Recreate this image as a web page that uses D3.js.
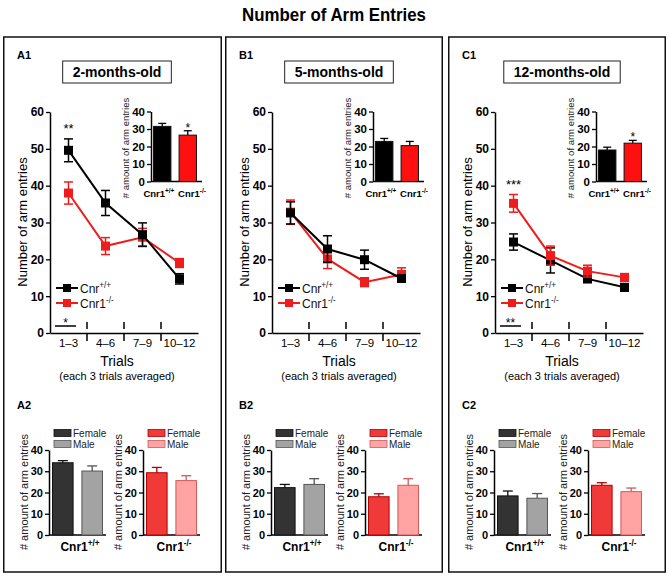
<!DOCTYPE html>
<html><head><meta charset="utf-8">
<script src="https://cdn.jsdelivr.net/npm/d3@7"></script>
<style>body{margin:0;background:#fff} svg{display:block;font-family:Arial,"Liberation Sans",sans-serif}</style>
</head><body><svg id="c" width="669" height="576"></svg>
<script>
// ---------------- DATA ----------------
const chartTitle = "Number of Arm Entries";
const panelLetters = ["A", "B", "C"];
const ageLabels = ["2-months-old", "5-months-old", "12-months-old"];
const trials = ["1–3", "4–6", "7–9", "10–12"];
const yTicksMain = [0, 10, 20, 30, 40, 50, 60];
const yTicksBar = [0, 10, 20, 30, 40];
const genoBase = ["Cnr1", "Cnr1"];
const genoSup = ["+/+", "-/-"];
const legendBase = ["Cnr", "Cnr1"];
const legendSup = ["+/+", "-/-"];
const sexes = ["Female", "Male"];
const xTitle = "Trials";
const xSubTitle = "(each 3 trials averaged)";
const yTitleMain = "Number of arm entries";
const yTitleBar = "# amount of arm entries";

// line charts (mean ± SEM per trial block)
const wtMeans = [[49.6, 35.3, 26.7, 14.7], [32.6, 22.8, 19.9, 14.8], [24.7, 19.7, 14.7, 12.4]];
const wtErrs  = [[3.1, 3.4, 3.2, 1.4], [3.0, 3.6, 2.6, 1.0], [2.2, 3.4, 1.0, 1.0]];
const koMeans = [[38.0, 23.6, 26.0, 19.0], [32.8, 20.1, 13.8, 15.9], [35.2, 21.0, 16.8, 15.1]];
const koErrs  = [[3.0, 2.3, 2.4, 1.2], [3.3, 2.6, 1.2, 1.8], [2.4, 2.6, 1.6, 1.0]];
const trialStars = ["**", "", "***"];
const trialStarGroup = ["wt", "", "ko"];
const overallStars = ["*", "", "**"];

// insets (overall mean ± SEM)
const insetMeans = [[31.5, 26.5], [22.9, 20.5], [18.0, 21.9]];
const insetErrs  = [[1.7, 2.5], [1.7, 2.4], [1.6, 1.6]];
const insetStars = [["", "*"], ["", ""], ["", "*"]];

// sex split (A2, B2, C2)
const wtSexMeans = [[34.0, 30.1], [22.3, 23.8], [18.4, 17.3]];
const wtSexErrs  = [[1.0, 2.4], [1.5, 2.7], [2.3, 2.2]];
const koSexMeans = [[29.3, 25.6], [18.0, 23.4], [23.4, 20.4]];
const koSexErrs  = [[2.5, 2.3], [1.4, 3.1], [1.2, 1.7]];

// ---------------- STYLE / LAYOUT ----------------
const wtColor = "#000000", koColor = "#ee1c1c";
const sexFill = [["#333333", "#a3a3a3"], ["#f03a3a", "#ffa3a3"]];
const sexStroke = [["#111111", "#555555"], ["#b00000", "#d25a5a"]];
const panelLeft = [3, 225, 448];
const panelW = [219, 218, 218];
const panelTop = 37, panelBottom = 572;

const svg = d3.select("#c");

svg.append("text").attr("x", 334).attr("y", 21).attr("text-anchor", "middle")
  .attr("font-size", 19).attr("font-weight", "bold")
  .attr("textLength", 184).attr("lengthAdjust", "spacingAndGlyphs")
  .text(chartTitle);

function supText(sel, base, sup, size) {
  sel.append("tspan").text(base);
  sel.append("tspan").attr("dy", -size * 0.42).attr("font-size", size * 0.68).text(sup);
}

function styleAxis(g, size) {
  g.selectAll("path.domain").attr("stroke", "#000").attr("stroke-width", 1.5);
  g.selectAll(".tick line").attr("stroke", "#000").attr("stroke-width", 1.3);
  g.selectAll(".tick text").attr("font-size", size).attr("font-weight", "bold")
    .attr("font-family", "Arial, 'Liberation Sans', sans-serif").attr("fill", "#000");
}

panelLetters.forEach((L, i) => {
  const g = svg.append("g").attr("transform", `translate(${panelLeft[i]},0)`);
  // panel box
  g.append("rect").attr("x", 0.75).attr("y", panelTop).attr("width", panelW[i] - 1.5)
    .attr("height", panelBottom - panelTop).attr("fill", "none").attr("stroke", "#111").attr("stroke-width", 1.5);
  g.append("text").attr("x", 14).attr("y", 59).attr("font-size", 11).attr("font-weight", "bold").text(L + "1");
  g.append("text").attr("x", 14).attr("y", 409).attr("font-size", 11).attr("font-weight", "bold").text(L + "2");

  // age box
  const age = g.append("text").attr("x", 114).attr("y", 77).attr("text-anchor", "middle")
    .attr("font-size", 14).attr("font-weight", "bold").text(ageLabels[i]);
  const tw = age.node().getComputedTextLength();
  g.insert("rect", "text").attr("x", 114 - tw / 2 - 10).attr("y", 61).attr("width", tw + 20).attr("height", 22)
    .attr("fill", "#fff").attr("stroke", "#222").attr("stroke-width", 1);

  // ---------- line chart ----------
  const x = d3.scaleBand().domain(trials).range([47, 195]);
  const y = d3.scaleLinear().domain([0, 60]).range([333, 112]);
  const ya = g.append("g").attr("transform", "translate(47,0)")
    .call(d3.axisLeft(y).tickValues(yTicksMain).tickSize(4).tickSizeOuter(0).tickPadding(2));
  styleAxis(ya, 12);
  const xa = g.append("g").attr("transform", "translate(0,333)")
    .call(d3.axisBottom(x).tickSize(0).tickSizeOuter(0).tickPadding(6));
  styleAxis(xa, 11.5);
  xa.selectAll(".tick text").attr("font-weight", "normal");
  // dashed separators
  trials.slice(1).forEach(t => {
    g.append("line").attr("x1", x(t)).attr("x2", x(t)).attr("y1", 322).attr("y2", 344)
      .attr("stroke", "#000").attr("stroke-width", 1.5).attr("stroke-dasharray", "7,5");
  });
  g.append("text").attr("x", 114).attr("y", 366).attr("text-anchor", "middle").attr("font-size", 14).text(xTitle);
  g.append("text").attr("x", 114).attr("y", 380).attr("text-anchor", "middle").attr("font-size", 11).text(xSubTitle);
  g.append("text").attr("transform", `translate(24,222) rotate(-90)`).attr("text-anchor", "middle")
    .attr("font-size", 13).text(yTitleMain);

  const series = [
    { key: "wt", m: wtMeans[i], e: wtErrs[i], c: wtColor },
    { key: "ko", m: koMeans[i], e: koErrs[i], c: koColor }
  ];
  const cx = t => x(t) + x.bandwidth() / 2;
  const order = i === 2 ? [series[0], series[1]] : [series[1], series[0]];
  order.forEach(s => {
    const pts = trials.map((t, k) => ({ t, v: s.m[k], e: s.e[k] }));
    g.append("path").datum(pts).attr("fill", "none").attr("stroke", s.c).attr("stroke-width", 2)
      .attr("d", d3.line().x(d => cx(d.t)).y(d => y(d.v)));
    pts.forEach(d => {
      const X = cx(d.t);
      g.append("line").attr("x1", X).attr("x2", X).attr("y1", y(d.v - d.e)).attr("y2", y(d.v + d.e))
        .attr("stroke", s.c).attr("stroke-width", 1.5);
      [d.v - d.e, d.v + d.e].forEach(v => g.append("line").attr("x1", X - 4.5).attr("x2", X + 4.5)
        .attr("y1", y(v)).attr("y2", y(v)).attr("stroke", s.c).attr("stroke-width", 1.5));
      g.append("rect").attr("x", X - 4.5).attr("y", y(d.v) - 4.5).attr("width", 9).attr("height", 9).attr("fill", s.c);
    });
  });
  if (trialStars[i]) {
    const s = trialStarGroup[i] === "wt" ? series[0] : series[1];
    g.append("text").attr("x", cx(trials[0])).attr("y", y(s.m[0] + s.e[0]) - 6).attr("text-anchor", "middle")
      .attr("font-size", 13).text(trialStars[i]);
  }
  if (overallStars[i]) {
    g.append("line").attr("x1", 52).attr("x2", 73).attr("y1", 326).attr("y2", 326).attr("stroke", "#000").attr("stroke-width", 1.5);
    g.append("text").attr("x", 62.5).attr("y", 327).attr("text-anchor", "middle").attr("font-size", 12).text(overallStars[i]);
  }
  // legend
  series.forEach((s, k) => {
    const ly = 288 + k * 15;
    g.append("line").attr("x1", 53).attr("x2", 75).attr("y1", ly).attr("y2", ly).attr("stroke", s.c).attr("stroke-width", 2);
    g.append("rect").attr("x", 60).attr("y", ly - 4).attr("width", 8).attr("height", 8).attr("fill", s.c);
    supText(g.append("text").attr("x", 77).attr("y", ly + 5).attr("font-size", 12).attr("fill", "#111"), legendBase[k], legendSup[k], 12);
  });

  // ---------- inset ----------
  const xi = d3.scaleBand().domain(genoBase.map((b, k) => k)).range([148, 196]).paddingInner(0.32).paddingOuter(0.1);
  const yi = d3.scaleLinear().domain([0, 40]).range([181.5, 111.5]);
  const yia = g.append("g").attr("transform", "translate(148,0)")
    .call(d3.axisLeft(yi).tickValues(yTicksBar).tickSize(4).tickSizeOuter(0).tickPadding(2));
  styleAxis(yia, 11.5);
  g.append("line").attr("x1", 148).attr("x2", 199).attr("y1", 181.5).attr("y2", 181.5).attr("stroke", "#000").attr("stroke-width", 1.5);
  [0, 1].forEach(k => {
    const X = xi(k), W = xi.bandwidth(), m = insetMeans[i][k], e = insetErrs[i][k];
    const c = k === 0 ? wtColor : "#ff1010";
    g.append("line").attr("x1", X + W / 2).attr("x2", X + W / 2).attr("y1", yi(m)).attr("y2", yi(m + e)).attr("stroke", "#000").attr("stroke-width", 1.3);
    g.append("line").attr("x1", X + W / 2 - 4).attr("x2", X + W / 2 + 4).attr("y1", yi(m + e)).attr("y2", yi(m + e)).attr("stroke", "#000").attr("stroke-width", 1.3);
    g.append("rect").attr("x", X).attr("y", yi(m)).attr("width", W).attr("height", yi(0) - yi(m))
      .attr("fill", c).attr("stroke", "#111").attr("stroke-width", 1);
    if (insetStars[i][k]) g.append("text").attr("x", X + W / 2).attr("y", yi(m + e) + 1).attr("text-anchor", "middle")
      .attr("font-size", 12).text(insetStars[i][k]);
    const lbl = g.append("text").attr("x", k === 0 ? X + W + 3.5 : X - 1).attr("y", 197)
      .attr("text-anchor", k === 0 ? "end" : "start")
      .attr("font-size", 9.5).attr("font-weight", "bold");
    supText(lbl, genoBase[k], genoSup[k], 9.5);
  });
  g.append("text").attr("transform", `translate(126,148) rotate(-90)`).attr("text-anchor", "middle")
    .attr("font-size", 9.5).attr("fill", "#222").text(yTitleBar);

  // ---------- sex split ----------
  const ys = d3.scaleLinear().domain([0, 40]).range([535, 450]);
  [46, 140].forEach((ax, gi) => {
    const means = gi === 0 ? wtSexMeans[i] : koSexMeans[i];
    const errs = gi === 0 ? wtSexErrs[i] : koSexErrs[i];
    const xs = d3.scaleBand().domain(sexes).range([ax, ax + 57]).paddingInner(0.3).paddingOuter(0.12);
    const a = g.append("g").attr("transform", `translate(${ax},0)`)
      .call(d3.axisLeft(ys).tickValues(yTicksBar).tickSize(4).tickSizeOuter(0).tickPadding(2));
    styleAxis(a, 11);
    g.append("line").attr("x1", ax).attr("x2", ax + 57).attr("y1", 535).attr("y2", 535).attr("stroke", "#000").attr("stroke-width", 1.5);
    sexes.forEach((sx, k) => {
      const X = xs(sx), W = xs.bandwidth(), m = means[k], e = errs[k];
      g.append("line").attr("x1", X + W / 2).attr("x2", X + W / 2).attr("y1", ys(m)).attr("y2", ys(m + e)).attr("stroke", sexStroke[gi][k]).attr("stroke-width", 1.3);
      g.append("line").attr("x1", X + W / 2 - 5).attr("x2", X + W / 2 + 5).attr("y1", ys(m + e)).attr("y2", ys(m + e)).attr("stroke", sexStroke[gi][k]).attr("stroke-width", 1.3);
      g.append("rect").attr("x", X).attr("y", ys(m)).attr("width", W).attr("height", ys(0) - ys(m))
        .attr("fill", sexFill[gi][k]).attr("stroke", sexStroke[gi][k]).attr("stroke-width", 1);
      // legend
      const ly = 433 + k * 11;
      g.append("rect").attr("x", ax + 5).attr("y", ly - 3.5).attr("width", 17).attr("height", 7)
        .attr("fill", sexFill[gi][k]).attr("stroke", sexStroke[gi][k]).attr("stroke-width", 0.8);
      g.append("text").attr("x", ax + 24).attr("y", ly + 3.5).attr("font-size", 10).attr("fill", "#222").text(sx);
    });
    supText(g.append("text").attr("x", ax + 31).attr("y", 551).attr("text-anchor", "middle")
      .attr("font-size", 12).attr("font-weight", "bold"), genoBase[gi], genoSup[gi], 12);
    g.append("text").attr("transform", `translate(${ax - 21},492) rotate(-90)`).attr("text-anchor", "middle")
      .attr("font-size", 11).attr("fill", "#222").text(yTitleBar);
  });
});
</script></body></html>
